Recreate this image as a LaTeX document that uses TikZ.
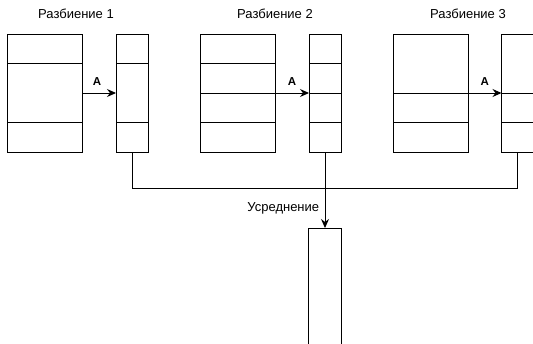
\documentclass[tikz,border=0pt]{standalone}
\usepackage{fontspec}
\setmainfont{Liberation Sans}
\usetikzlibrary{arrows.meta,positioning}

\begin{document}
\begin{tikzpicture}[
    x=1pt, y=-1pt,
    every node/.style={font=\fontsize{13}{15}\selectfont},
    kletka/.style={draw=black, line width=1pt, inner sep=0pt, outer sep=0pt, minimum width=75pt, minimum height=29.5pt},
    uzkaya/.style={kletka, minimum width=32pt},
    dvoinaya/.style={minimum height=59pt},
    strelka/.style={line width=1pt, -{Stealth[length=9pt,width=8pt,inset=3pt]}},
    metka/.style={font=\fontsize{11.5}{13}\selectfont\bfseries, inner sep=1pt},
    svyaz/.style={line width=1pt, draw=black}
    ]
    \useasboundingbox (0,0) rectangle (533,343);

% Разбиение 1
\node at (76,14) (zag1) {Разбиение 1};
\node[kletka, anchor=north west] at (7,34) (b1a) {};
\node[kletka, dvoinaya, below=0pt of b1a] (b1b) {};
\node[kletka, below=0pt of b1b] (b1c) {};
\node[uzkaya, anchor=north west] at (116,34) (s1a) {};
\node[uzkaya, dvoinaya, below=0pt of s1a] (s1b) {};
\node[uzkaya, below=0pt of s1b] (s1c) {};
\draw[strelka] (b1b.east) -- (s1b.west) node[midway, above=6pt, xshift=-2pt, metka] {A};

% Разбиение 2
\node at (275,14) (zag2) {Разбиение 2};
\node[kletka, anchor=north west] at (200,34) (b2a) {};
\node[kletka, below=0pt of b2a] (b2b) {};
\node[kletka, below=0pt of b2b] (b2c) {};
\node[kletka, below=0pt of b2c] (b2d) {};
\node[uzkaya, anchor=north west] at (309,34) (s2a) {};
\node[uzkaya, below=0pt of s2a] (s2b) {};
\node[uzkaya, below=0pt of s2b] (s2c) {};
\node[uzkaya, below=0pt of s2c] (s2d) {};
\draw[strelka] (b2b.south east) -- (s2b.south west) node[midway, above=6pt, metka] {A};

% Разбиение 3
\node at (468,14) (zag3) {Разбиение 3};
\node[kletka, dvoinaya, anchor=north west] at (393,34) (b3a) {};
\node[kletka, below=0pt of b3a] (b3b) {};
\node[kletka, below=0pt of b3b] (b3c) {};
\node[uzkaya, dvoinaya, anchor=north west] at (501.5,34) (s3a) {};
\node[uzkaya, below=0pt of s3a] (s3b) {};
\node[uzkaya, below=0pt of s3b] (s3c) {};
\draw[strelka] (b3a.south east) -- (s3a.south west) node[midway, above=6pt, metka] {A};

% усреднение по разбиениям
\node[uzkaya, minimum width=33pt, minimum height=130pt, anchor=north] at (s2d.south |- 0,228) (sred) {};
\coordinate (uzel) at (s2d.south |- 0,188.5);
\draw[svyaz] (s1c.south) |- (uzel) -| (s3c.south);
\draw[strelka] (s2d.south) -- (sred.north) node[pos=0.74, left=2pt] {Усреднение};
\end{tikzpicture}
\end{document}
